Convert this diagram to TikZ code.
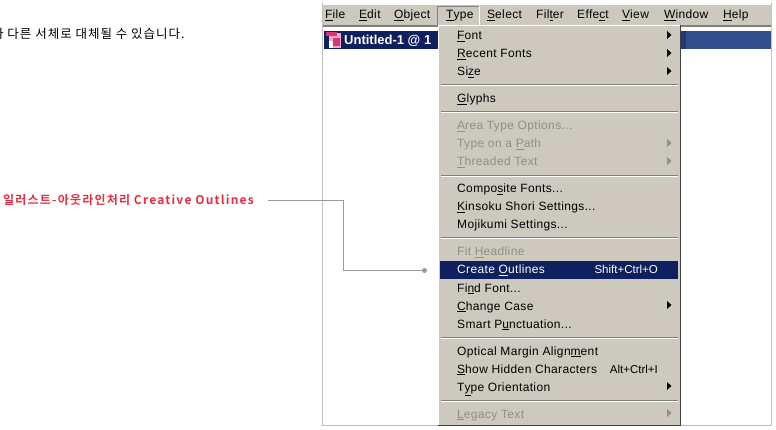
\documentclass[tikz,border=0pt]{standalone}
\usepackage{fontspec}
\setmainfont{Liberation Sans}
\newfontfamily\krfont[LetterSpace=8]{Noto Sans CJK KR}
\newfontfamily\krbold[LetterSpace=10,BoldFont={Noto Sans CJK KR Bold}]{Noto Sans CJK KR}
\newfontfamily\menufont[LetterSpace=3]{Liberation Sans}
\newcommand{\mn}[1]{\underline{#1}}
\definecolor{menubg}{HTML}{CDC9BF}
\definecolor{navy}{HTML}{0E205E}
\definecolor{barblue}{HTML}{34508C}
\definecolor{lead}{HTML}{999999}
\definecolor{frameg}{HTML}{C0C0C0}
\definecolor{sepdark}{HTML}{827F78}
\definecolor{dis}{HTML}{918E86}
\definecolor{redlabel}{HTML}{E1303F}
\definecolor{iconpink}{HTML}{D8357F}
\definecolor{iconlight}{HTML}{F2A9C8}
\tikzset{
  x=1pt,y=-1pt,
  menutext/.style={anchor=base west,inner sep=0pt,font=\menufont\fontsize{12}{14}\selectfont,text=black},
  item/.style={menutext},
  disabled/.style={menutext,text=dis},
  selected/.style={menutext,text=white},
  keyhint/.style={anchor=base east,inner sep=0pt,font=\fontsize{11.5}{14}\selectfont},
  subarrow/.style={fill=black,draw=none},
  subarrowdis/.style={fill=dis,draw=none},
  sepline/.style={draw=sepdark,line width=1pt},
  sepwhite/.style={draw=white,line width=1pt},
  leader/.style={draw=lead,line width=1pt},
}
\newcommand{\sep}[1]{\draw[sepline] (441,#1)--(678,#1);\draw[sepwhite] (441,#1+1)--(678,#1+1);}
\newcommand{\arr}[2][subarrow]{\path[#1] (667,#2-4)--(671.5,#2)--(667,#2+4)--cycle;}
\begin{document}
\begin{tikzpicture}
\useasboundingbox (0,0) rectangle (776,430);
\clip (0,0) rectangle (776,430);
\fill[white] (0,0) rectangle (776,430);
% window
\draw[frameg,line width=1pt] (322.5,3)--(322.5,425.5)--(771.5,425.5)--(771.5,3);
\fill[menubg] (323,5) rectangle (771,25);
\fill[sepdark] (323,25) rectangle (771,27);
\fill[white] (323,27) rectangle (771,425);
% title bar
\fill[navy] (324,31) rectangle (438,49);
\fill[barblue] (681,31) rectangle (771,49);
\fill[navy!50!barblue] (681,31) rectangle (686,49);
% document icon
\fill[iconlight] (329,33) rectangle (341,48);
\fill[white] (329,41) rectangle (333,48);
\fill[iconpink] (326,32) rectangle (337,36);
\fill[iconpink] (333,38) rectangle (340,46);
% title
\node[anchor=base west,inner sep=0pt,font=\fontsize{13}{15}\selectfont\bfseries,text=white] (title) at (344,45) {Untitled-1 @ 1};
% menu panel
\fill[menubg] (438,25) rectangle (681,425);
\draw[white,line width=1pt] (438.5,26)--(438.5,425);
\draw[white,line width=1pt] (438,25.5)--(680,25.5);
\draw[black!75,line width=1pt] (680.5,25)--(680.5,425.5)--(438,425.5);
% Type tab
\draw[sepdark,line width=1pt] (437.5,25)--(437.5,6.5)--(479.5,6.5);
\draw[white,line width=1pt] (479.5,6)--(479.5,25);
% menu bar
\node[item] (mFile) at (325,19) {\mn{F}ile};
\node[item] (mEdit) at (359,19) {\mn{E}dit};
\node[item] (mObject) at (394,19) {\mn{O}bject};
\node[item] (mType) at (446,19) {\mn{T}ype};
\node[item] (mSelect) at (487,19) {\mn{S}elect};
\node[item] (mFilter) at (536,19) {Fil\mn{t}er};
\node[item] (mEffect) at (577,19) {Effe\mn{c}t};
\node[item] (mView) at (622,19) {\mn{V}iew};
\node[item] (mWindow) at (664,19) {\mn{W}indow};
\node[item] (mHelp) at (723,19) {\mn{H}elp};
% separators
\sep{84.5}\sep{111.5}\sep{175.5}\sep{237.5}\sep{337.5}\sep{400.5}
% highlight
\fill[navy] (440,261) rectangle (678,279);
% items
\node[item] (font) at (457,40) {\mn{F}ont};\arr{35}
\node[item] (recent) at (457,58) {\mn{R}ecent Fonts};\arr{53}
\node[item] (size) at (457,76) {Si\mn{z}e};\arr{71}
\node[item] (glyphs) at (457,103) {\mn{G}lyphs};
\node[disabled] (area) at (457,130) {\mn{A}rea Type Options...};
\node[disabled] (path) at (457,148) {Type on a \mn{P}ath};\arr[subarrowdis]{143}
\node[disabled] (threaded) at (457,166) {\mn{T}hreaded Text};\arr[subarrowdis]{161}
\node[item] (composite) at (457,193) {Compo\mn{s}ite Fonts...};
\node[item] (kinsoku) at (457,211) {\mn{K}insoku Shori Settings...};
\node[item] (mojikumi) at (457,229) {Mojikumi Settings...};
\node[disabled] (fit) at (457,256) {Fit \mn{H}eadline};
\node[selected] (create) at (457,274) {Create \mn{O}utlines};
\node[keyhint,text=white] (createkey) at (658,274) {Shift+Ctrl+O};
\node[item] (find) at (457,292) {Fi\mn{n}d Font...};
\node[item] (change) at (457,310) {\mn{C}hange Case};\arr{305}
\node[item] (smart) at (457,328) {Smart P\mn{u}nctuation...};
\node[item] (optical) at (457,355) {Optical Margin Align\mn{m}ent};
\node[item] (hidden) at (457,373) {\mn{S}how Hidden Characters};
\node[keyhint] (hiddenkey) at (658,373) {Alt+Ctrl+I};
\node[item] (orient) at (457,391) {T\mn{y}pe Orientation};\arr{386}
\node[disabled] (legacy) at (457,418) {\mn{L}egacy Text};\arr[subarrowdis]{413}
% left texts
\node[anchor=base west,inner sep=0pt,font=\krfont\fontsize{12.5}{14}\selectfont] (note) at (-8,38.5) {나 다른 서체로 대체될 수 있습니다.};
\node[anchor=base west,inner sep=0pt,text=redlabel,font=\krbold\bfseries\fontsize{12}{14}\selectfont] (label) at (3,204.5) {일러스트-아웃라인처리 Creative Outlines};
% leader
\coordinate (lstart) at (268,200.5);
\node[circle,fill=lead,inner sep=0pt,minimum size=5pt] (dot) at (424.5,270.5) {};
\draw[leader] (lstart) -| (343.5,270.5) -- (dot);
\end{tikzpicture}
\end{document}
